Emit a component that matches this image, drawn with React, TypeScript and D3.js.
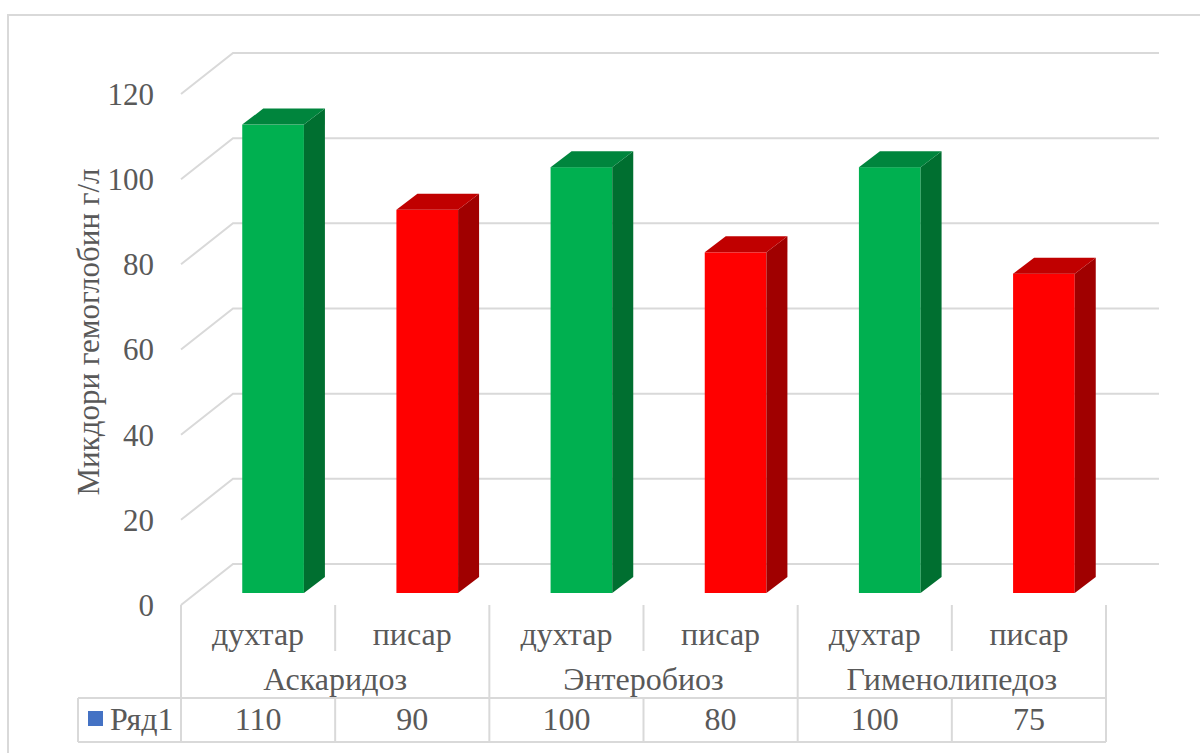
import React from 'react';
import * as d3 from 'd3';

// chart data
const groups = ['Аскаридоз', 'Энтеробиоз', 'Гименолипедоз'];
const subCategories = ['духтар', 'писар', 'духтар', 'писар', 'духтар', 'писар'];
const values = [110, 90, 100, 80, 100, 75];
const seriesName = 'Ряд1';
const yTicks = [0, 20, 40, 60, 80, 100, 120];
const yTitle = 'Микдори гемоглобин г/л';

const FONT = "'Liberation Serif', 'Times New Roman', serif";
const TEXT = '#595959';
const GRID = '#d9d9d9';

const faces = [
  { front: '#00b050', top: '#00853d', side: '#006f30' },
  { front: '#ff0000', top: '#c00000', side: '#a00000' },
];

const App: React.FC = () => {
  const width = 1200;
  const height = 753;

  // plot floor (front edge) and depth offsets
  const x0 = 181;
  const x1 = 1106;
  const wallDx = 52;
  const wallDy = -41;
  const barFrontDx = 15;
  const barFrontDy = -12;
  const barDx = 21;
  const barDy = -16;

  const keys = subCategories.map((_, i) => String(i));
  const x = d3.scaleBand<string>()
    .domain(keys)
    .range([x0, x1])
    .paddingInner(0.6)
    .paddingOuter(0.3);
  const step = x.step();
  const cellX = (i: number) => x0 + i * step;

  const y = d3.scaleLinear().domain([0, 120]).range([605, 94]);

  const tableTop = 605;
  const subLineBottom = 651;
  const rowTop = 698;
  const rowBottom = 742;
  const legendLeft = 78;

  const txt = { fontFamily: FONT, fontSize: '32px', fill: TEXT };
  const tickTxt = { fontFamily: FONT, fontSize: '31px', fill: TEXT };

  return (
    <svg width={width} height={height} style={{ position: 'absolute', left: 0, top: 0, background: '#fff' }}>
      {/* outer chart border */}
      <rect x={8} y={15} width={1200} height={760} fill="#fff" stroke={GRID} strokeWidth={2} />

      {/* gridlines */}
      <g stroke={GRID} strokeWidth={2} fill="none">
        {yTicks.map((t) => (
          <path
            key={t}
            d={`M${x0},${y(t)}L${x0 + wallDx},${y(t) + wallDy}L${x1 + wallDx + 1},${y(t) + wallDy}`}
          />
        ))}
      </g>

      {/* y tick labels */}
      <g style={tickTxt} textAnchor="end">
        {yTicks.map((t) => (
          <text key={t} x={154} y={y(t)} dy="0.35em">{t}</text>
        ))}
      </g>

      {/* y axis title */}
      <text transform={`translate(99,${332}) rotate(-90)`} textAnchor="middle" style={tickTxt}>
        {yTitle}
      </text>

      {/* 3d bars */}
      {values.map((v, i) => {
        const c = faces[i % 2];
        const bx = (x(String(i)) ?? 0) + barFrontDx;
        const bw = x.bandwidth();
        const yb = y(0) + barFrontDy;
        const yt = y(v) + barFrontDy;
        return (
          <g key={i}>
            <rect x={bx} y={yt} width={bw} height={yb - yt} fill={c.front} />
            <path
              d={`M${bx + bw},${yt}L${bx + bw + barDx},${yt + barDy}L${bx + bw + barDx},${yb + barDy}L${bx + bw},${yb}Z`}
              fill={c.side}
            />
            <path
              d={`M${bx},${yt}L${bx + barDx},${yt + barDy}L${bx + bw + barDx},${yt + barDy}L${bx + bw},${yt}Z`}
              fill={c.top}
            />
          </g>
        );
      })}

      {/* data table */}
      <g stroke={GRID} strokeWidth={2} fill="none">
        {subCategories.map((_, i) =>
          i % 2 === 1 ? (
            <line key={`s${i}`} x1={cellX(i)} x2={cellX(i)} y1={tableTop} y2={subLineBottom} />
          ) : null
        )}
        {d3.range(groups.length + 1).map((g) => (
          <line key={`g${g}`} x1={cellX(g * 2)} x2={cellX(g * 2)} y1={tableTop} y2={rowBottom} />
        ))}
        {subCategories.map((_, i) =>
          i % 2 === 1 ? (
            <line key={`r${i}`} x1={cellX(i)} x2={cellX(i)} y1={rowTop} y2={rowBottom} />
          ) : null
        )}
        <line x1={legendLeft} x2={x1} y1={rowTop} y2={rowTop} />
        <line x1={legendLeft} x2={x1} y1={rowBottom} y2={rowBottom} />
        <line x1={legendLeft} x2={legendLeft} y1={rowTop} y2={rowBottom} />
      </g>

      <g style={txt} textAnchor="middle">
        {subCategories.map((s, i) => (
          <text key={`c${i}`} x={cellX(i) + step / 2} y={645}>{s}</text>
        ))}
        {groups.map((g, k) => (
          <text key={`gr${k}`} x={cellX(k * 2) + step} y={690}>{g}</text>
        ))}
        {values.map((v, i) => (
          <text key={`v${i}`} x={cellX(i) + step / 2} y={730}>{v}</text>
        ))}
      </g>

      {/* legend key */}
      <rect x={88} y={711} width={15} height={15} fill="#4472c4" />
      <text x={110} y={730} style={txt}>{seriesName}</text>
    </svg>
  );
};

export default App;
